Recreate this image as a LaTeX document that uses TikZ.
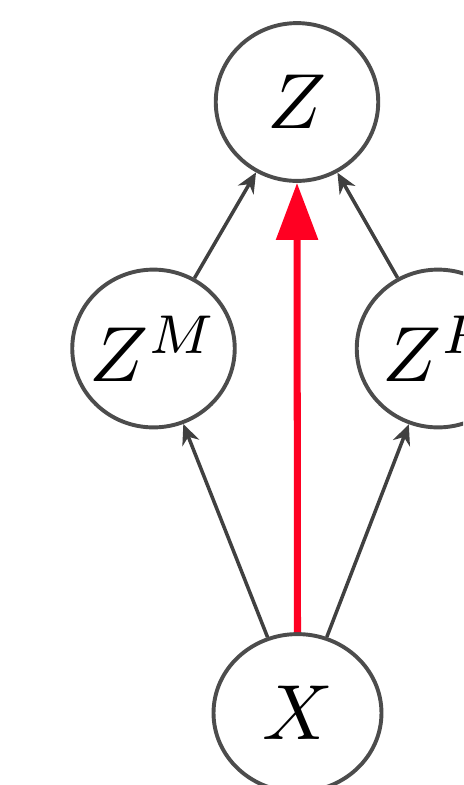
\documentclass[tikz,border=0pt]{standalone}
\usetikzlibrary{arrows.meta,shapes.geometric}
\definecolor{redarrow}{RGB}{255,0,34}
\begin{document}
\begin{tikzpicture}[x=0.128pt,y=-0.128pt,
  var/.style={ellipse,draw=black!70,line width=0.5pt,inner sep=0pt,minimum width=20.8pt,minimum height=20.2pt},
  blk/.style={draw=black!75,line width=0.45pt,-{Stealth[length=2.6pt,width=2.3pt]}},
  red/.style={draw=redarrow,line width=0.9pt,-{Triangle[length=7.3pt,width=5.2pt]}}]
\useasboundingbox (0,0) rectangle (463,785);
\clip (0,0) rectangle (463,785);
\node[var] (Z) at (297,102) {\makebox[0pt]{$Z$}};
\node[var] (ZM) at (153.5,348.5) {\makebox[0pt]{$Z^M$}};
\node[var] (ZP) at (438,348.5) {\makebox[0pt]{$Z^P$}};
\node[var,minimum width=21.5pt] (X) at (297.5,713) {\makebox[0pt]{$X$}};
\draw[blk] (ZM) -- (Z);
\draw[blk] (ZP) -- (Z);
\draw[blk] (X) -- (ZM);
\draw[blk] (X) -- (ZP);
\draw[red] (X.north) -- (Z.south);
\end{tikzpicture}
\end{document}
